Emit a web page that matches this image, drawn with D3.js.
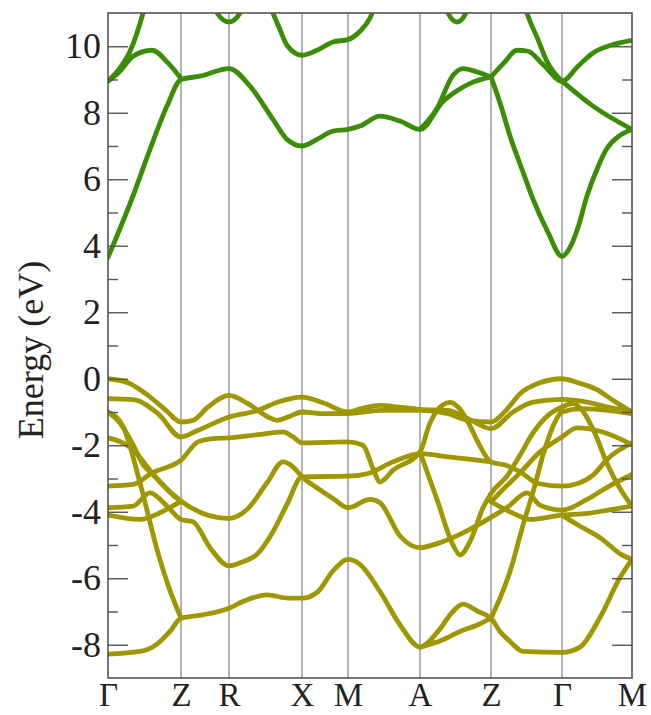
<!DOCTYPE html>
<html>
<head>
<meta charset="utf-8">
<script src="https://cdn.jsdelivr.net/npm/d3@7/dist/d3.min.js"></script>
<style>
  body { margin: 0; background: #fff; }
  text { font-family: "Liberation Serif", "DejaVu Serif", serif; fill: #222; }
</style>
</head>
<body>
<svg id="chart" width="651" height="715"></svg>
<script>
// high-symmetry path (k in arbitrary path units)
const kPoints = [0, 73, 121, 194, 240, 312, 383, 454, 524];
const kLabels = ["Γ", "Z", "R", "X", "M", "A", "Z", "Γ", "M"];
const yTicks = [-8, -6, -4, -2, 0, 2, 4, 6, 8, 10];
const yMinorTicks = [-7, -5, -3, -1, 1, 3, 5, 7, 9];

// conduction bands [k, E]
const conduction = [
  [[0,3.65],[25,5.5],[42,6.9],[59,8.2],[73,9.0],[92,9.1],[121,9.33],[142,8.8],[165,7.8],[179,7.2],[194,7.0],[209,7.2],[225,7.45],[240,7.5],[252,7.6],[272,7.9],[292,7.75],[312,7.5],[335,8.34],[349,8.66],[365,8.92],[383,9.08]],
  [[312,7.5],[329,8.13],[345,9.13],[355,9.33],[370,9.22],[383,9.08]],
  [[0,8.95],[12,9.25],[25,9.7],[44,9.88],[60,9.5],[73,9.03]],
  [[0,8.95],[12,9.35],[22,9.85],[35,11.0],[40,11.6]],
  [[105,11.4],[109,11.0],[121,10.73],[132,11.0],[136,11.4]],
  [[160,11.4],[165,11.0],[172,10.5],[179,10.03],[194,9.73],[209,9.88],[225,10.13],[240,10.2],[252,10.45],[262,10.85],[268,11.3]],
  [[336,11.4],[340,11.0],[349,10.73],[358,11.0],[362,11.4]],
  [[383,9.08],[396,9.5],[409,9.88],[420,9.85],[435,9.45],[454,8.95],[470,9.4],[485,9.8],[505,10.05],[524,10.18]],
  [[383,9.08],[393,8.2],[402,7.3],[414,6.3],[425,5.4],[440,4.4],[454,3.68],[462,3.95],[470,4.55],[479,5.5],[489,6.3],[499,6.93],[511,7.3],[524,7.5]],
  [[454,8.95],[485,8.2],[524,7.5]],
  [[415,11.4],[419,11.0],[430,10.2],[439,9.54],[454,8.95]]
];

// valence bands [k, E]
const valence = [
  [[0,0],[20,-0.12],[40,-0.5],[58,-0.95],[73,-1.3],[85,-1.25],[100,-0.85],[121,-0.5],[140,-0.75],[160,-1.15],[169,-1.25],[180,-1.15],[194,-1.0],[215,-1.05],[240,-1.05],[272,-0.95],[312,-0.95],[340,-1.05],[360,-1.25],[383,-1.3],[398,-0.95],[412,-0.45],[432,-0.12],[454,0],[470,-0.12],[489,-0.33],[505,-0.65],[524,-1.0]],
  [[0,-0.6],[25,-0.63],[50,-1.05],[73,-1.75],[90,-1.55],[121,-1.15],[150,-0.95],[170,-0.7],[194,-0.55],[215,-0.72],[240,-1.0],[255,-0.88],[272,-0.8],[290,-0.85],[312,-0.92],[340,-0.95],[360,-1.2],[383,-1.5],[405,-1.0],[425,-0.7],[454,-0.62],[479,-0.7],[500,-0.85],[524,-1.0]],
  [[0,-3.23],[25,-3.18],[44,-2.83],[73,-2.45],[90,-1.9],[105,-1.8],[121,-1.78],[150,-1.68],[175,-1.6],[185,-1.75],[194,-1.93],[240,-1.9],[255,-2.0],[265,-2.7],[272,-3.1],[285,-2.75],[312,-2.2],[322,-1.33],[335,-0.78],[342,-0.71],[350,-0.85],[360,-1.3],[369,-1.85],[383,-2.5],[398,-2.6],[412,-2.8],[430,-3.15],[454,-3.23],[470,-3.15],[485,-2.9],[500,-2.4],[524,-1.93]],
  [[0,-1.78],[25,-2.13],[44,-2.83],[73,-3.68],[95,-4.05],[121,-4.2],[139,-3.93],[159,-3.13],[175,-2.5],[185,-2.65],[194,-2.95],[210,-3.3],[225,-3.6],[240,-3.88],[262,-3.63],[272,-3.73],[292,-4.73],[312,-5.08],[330,-4.95],[352,-4.68],[383,-4.17],[400,-3.85],[419,-3.43],[432,-3.8],[454,-3.95],[479,-3.63],[500,-3.25],[524,-2.88]],
  [[0,-3.88],[25,-3.83],[42,-3.43],[59,-3.83],[73,-4.23],[85,-4.3],[102,-5.08],[121,-5.63],[135,-5.5],[149,-5.28],[165,-4.6],[179,-3.78],[194,-2.95],[240,-2.93],[260,-2.85],[285,-2.5],[312,-2.25],[340,-2.35],[369,-2.45],[383,-2.5]],
  [[0,-8.28],[32,-8.2],[49,-7.98],[62,-7.6],[73,-7.2],[95,-7.1],[121,-6.9],[135,-6.7],[159,-6.5],[180,-6.6],[194,-6.6],[210,-6.4],[225,-5.78],[240,-5.43],[252,-5.58],[272,-6.4],[292,-7.4],[312,-8.07],[330,-7.6],[345,-7.0],[355,-6.78],[370,-7.0],[383,-7.2],[392,-7.6],[402,-7.9],[415,-8.2],[454,-8.23],[472,-8.07],[492,-7.18],[512,-5.98],[524,-5.43]],
  [[312,-8.07],[335,-7.85],[352,-7.6],[370,-7.4],[383,-7.2]],
  [[0,-1.0],[15,-1.43],[32,-3.13],[49,-5.13],[60,-6.2],[73,-7.2]],
  [[0,-1.0],[12,-1.33],[25,-1.98],[35,-2.58],[44,-2.85],[58,-3.3],[73,-3.7]],
  [[0,-4.1],[32,-4.23],[52,-4.03],[73,-3.68]],
  [[312,-2.2],[329,-3.63],[345,-5.0],[352,-5.3],[362,-4.9],[375,-3.88],[383,-3.45],[399,-2.93],[412,-2.3],[425,-1.63],[440,-1.1],[454,-0.85],[465,-0.74],[475,-0.98],[487,-1.65],[499,-2.55],[512,-3.3],[524,-3.83]],
  [[383,-7.2],[392,-6.6],[402,-5.8],[415,-4.4],[425,-3.4],[437,-2.1],[447,-1.3],[454,-1.0],[475,-0.9],[500,-0.95],[524,-1.05]],
  [[383,-3.7],[396,-3.3],[412,-2.83],[432,-2.2],[454,-1.75],[469,-1.48],[492,-1.58],[524,-1.98]],
  [[383,-3.7],[404,-4.03],[422,-4.23],[454,-4.1],[480,-4.05],[500,-3.95],[524,-3.83]],
  [[454,-4.1],[470,-4.4],[493,-4.8],[513,-5.28],[524,-5.43]]
];

const width = 651, height = 715;
const margin = { left: 108, right: 19, top: 13, bottom: 37 };
const svg = d3.select("#chart");

const x = d3.scaleLinear().domain([0, 524]).range([margin.left, width - margin.right]);
const y = d3.scaleLinear().domain([-9, 11]).range([height - margin.bottom, margin.top]);

svg.append("defs").append("clipPath").attr("id", "plot-clip")
  .append("rect")
  .attr("x", x(0)).attr("y", y(11))
  .attr("width", x(524) - x(0)).attr("height", y(-9) - y(11));

// high-symmetry vertical lines
svg.append("g").selectAll("line")
  .data(kPoints.slice(1, -1))
  .enter().append("line")
  .attr("x1", d => x(d)).attr("x2", d => x(d))
  .attr("y1", y(11)).attr("y2", y(-9))
  .attr("stroke", "#8a8a8a").attr("stroke-width", 1.3);

const line = d3.line()
  .x(d => x(d[0]))
  .y(d => y(d[1]))
  .curve(d3.curveMonotoneX);

const bands = svg.append("g").attr("clip-path", "url(#plot-clip)");

bands.selectAll(".vb")
  .data(valence)
  .enter().append("path")
  .attr("class", "vb")
  .attr("d", line)
  .attr("fill", "none")
  .attr("stroke", "#9f9700")
  .attr("stroke-width", 4.8)
  .attr("stroke-linejoin", "round")
  .attr("stroke-linecap", "round");

bands.selectAll(".cb")
  .data(conduction)
  .enter().append("path")
  .attr("class", "cb")
  .attr("d", line)
  .attr("fill", "none")
  .attr("stroke", "#3b8c06")
  .attr("stroke-width", 4.8)
  .attr("stroke-linejoin", "round")
  .attr("stroke-linecap", "round");

// y axes, ticks pointing inward on both sides
const yAxisL = d3.axisLeft(y).tickValues(yTicks).tickSize(-20).tickPadding(7)
  .tickFormat(d => String(d));
const yAxisLm = d3.axisLeft(y).tickValues(yMinorTicks).tickSize(-10).tickFormat("");
const yAxisR = d3.axisRight(y).tickValues(yTicks).tickSize(-20).tickFormat("");
const yAxisRm = d3.axisRight(y).tickValues(yMinorTicks).tickSize(-10).tickFormat("");

function styleAxis(g, size) {
  g.select(".domain").remove();
  g.selectAll(".tick line").attr("stroke", "#555").attr("stroke-width", 1.4);
  g.selectAll("text").attr("font-size", size).attr("fill", "#222")
    .style("font-family", '"Liberation Serif", "DejaVu Serif", serif');
}

svg.append("g").attr("transform", `translate(${x(0)},0)`).call(yAxisL).call(styleAxis, 36);
svg.append("g").attr("transform", `translate(${x(0)},0)`).call(yAxisLm).call(styleAxis, 36);
svg.append("g").attr("transform", `translate(${x(524)},0)`).call(yAxisR).call(styleAxis, 36);
svg.append("g").attr("transform", `translate(${x(524)},0)`).call(yAxisRm).call(styleAxis, 36);

// x axis labels
const xAxis = d3.axisBottom(x).tickValues(kPoints).tickSize(0).tickPadding(5)
  .tickFormat((d, i) => kLabels[i]);
svg.append("g").attr("transform", `translate(0,${y(-9)})`).call(xAxis).call(styleAxis, 33);

// frame
svg.append("rect")
  .attr("x", x(0)).attr("y", y(11))
  .attr("width", x(524) - x(0)).attr("height", y(-9) - y(11))
  .attr("fill", "none").attr("stroke", "#555").attr("stroke-width", 1.6);

// y label
svg.append("text")
  .attr("transform", `translate(43,350) rotate(-90)`)
  .attr("text-anchor", "middle")
  .attr("font-size", 36)
  .text("Energy (eV)");
</script>
</body>
</html>
